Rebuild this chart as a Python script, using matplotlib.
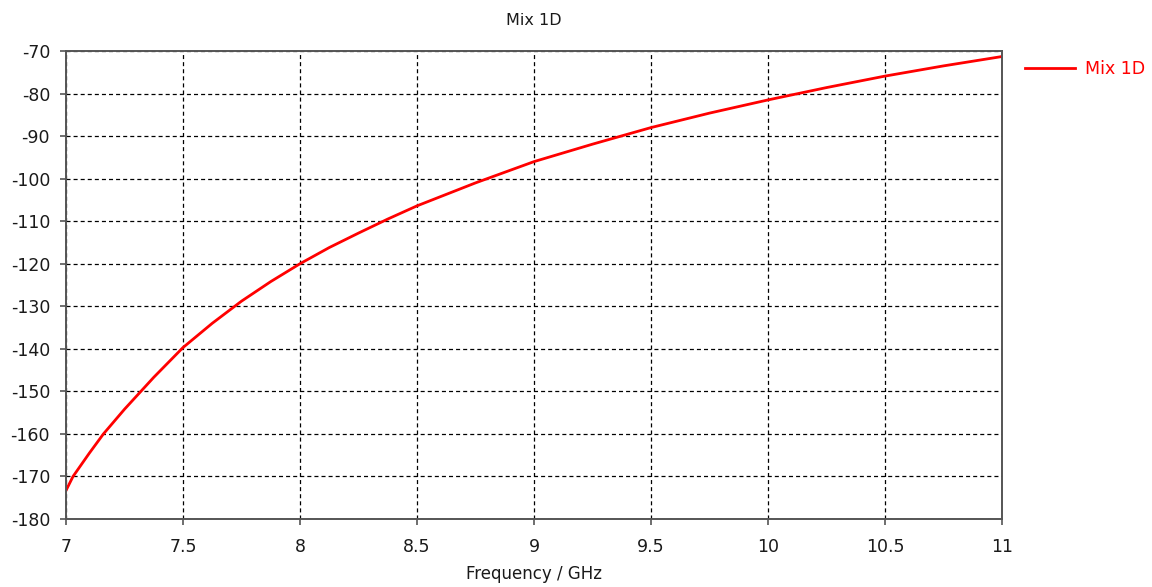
import matplotlib
matplotlib.use("Agg")
import matplotlib.pyplot as plt

# values
freq_ghz = [7.0, 7.03, 7.1, 7.16, 7.25, 7.375, 7.5, 7.625, 7.75, 7.875, 8.0,
            8.125, 8.25, 8.375, 8.5, 8.75, 9.0, 9.25, 9.5, 9.75, 10.0, 10.25,
            10.5, 10.75, 11.0]
mix_1d = [-173.3, -170.0, -164.5, -160.0, -154.2, -146.7, -139.7, -134.0,
          -128.8, -124.2, -120.0, -116.2, -112.8, -109.5, -106.4, -101.0,
          -96.0, -91.9, -88.0, -84.6, -81.5, -78.6, -75.9, -73.5, -71.3]

x_ticks = [7, 7.5, 8, 8.5, 9, 9.5, 10, 10.5, 11]
x_tick_labels = ["7", "7.5", "8", "8.5", "9", "9.5", "10", "10.5", "11"]
y_ticks = list(range(-180, -60, 10))

plt.rcParams["font.family"] = ["DejaVu Sans"]
plt.rcParams["axes.unicode_minus"] = False
plt.rcParams["lines.scale_dashes"] = False

fig = plt.figure(figsize=(11.52, 5.87), dpi=100)
ax = fig.add_axes([66 / 1152, 1 - 519 / 587, 936 / 1152, 468 / 587])

ax.plot(freq_ghz, mix_1d, color="#ff0000", linewidth=2.0, label="Mix 1D")

ax.set_xlim(7, 11)
ax.set_ylim(-180, -70)
ax.set_xticks(x_ticks)
ax.set_xticklabels(x_tick_labels)
ax.set_yticks(y_ticks)

ax.grid(True, color="black", linestyle=(0, (2.9, 2.2)), linewidth=0.9)
for s in ax.spines.values():
    s.set_color("#555555")
    s.set_linewidth(1.4)

ax.tick_params(direction="out", length=4.5, width=1.2, color="#555555",
               labelsize=12.5, labelcolor="#1a1a1a")
ax.tick_params(axis="x", pad=9)
ax.tick_params(axis="y", pad=7)

ax.set_title("Mix 1D", fontsize=11.5, color="#1a1a1a", pad=19)
ax.set_xlabel("Frequency / GHz", fontsize=12, color="#1a1a1a", labelpad=7)

leg = ax.legend(loc="center left", bbox_to_anchor=(1025 / 1152, 1 - 69 / 587),
                bbox_transform=fig.transFigure, frameon=False, fontsize=12.5,
                handlelength=2.9, handletextpad=0.55, borderpad=0,
                borderaxespad=0)
for t in leg.get_texts():
    t.set_color("#ff0000")

fig.savefig("out.png", dpi=100)
